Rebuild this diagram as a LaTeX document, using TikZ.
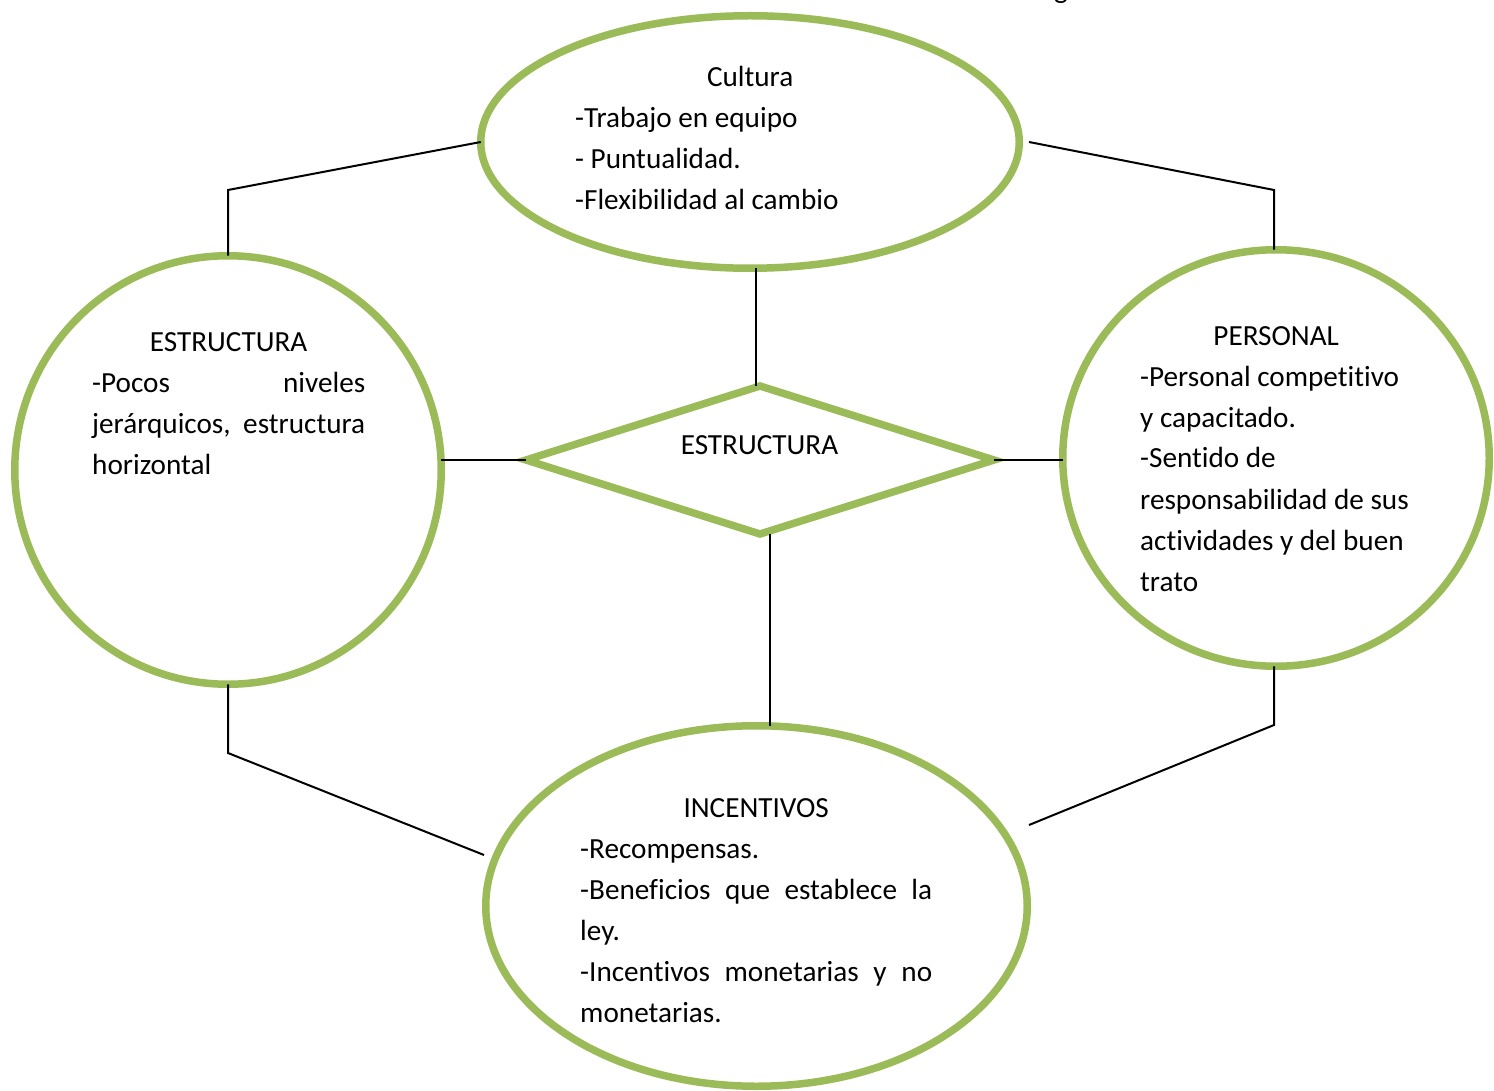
\documentclass[tikz,border=0pt]{standalone}
\usepackage{fontspec}
\setmainfont{Carlito}[Ligatures={NoCommon}]
\usetikzlibrary{shapes.geometric}
\definecolor{leaf}{HTML}{9BBB59}
\tikzset{
  ring/.style={draw=leaf, line width=7.5pt, ellipse, inner sep=0pt, outer sep=0pt},
  rhomb/.style={draw=leaf, line width=7.5pt, diamond, inner sep=0pt, outer sep=0pt},
  link/.style={draw=black, line width=2pt},
  txt/.style={inner sep=0pt, anchor=base west, font=\fontsize{29.2}{41}\selectfont},
}
% text block: first baseline at the node's base
\newcommand\blk[2]{\parbox[t]{#1}{\fontsize{29.2}{41}\selectfont\raggedright #2}}
\newcommand\jline[1]{\makebox[\linewidth][s]{#1}}
\newcommand\ctrline[1]{\makebox[\linewidth]{#1}}
\begin{document}
\begin{tikzpicture}[x=1pt,y=-1pt]
\useasboundingbox (0,0) rectangle (1494,1091);
\fill[white] (0,0) rectangle (1494,1091);

% shapes
\node[ring, minimum width=538.5pt, minimum height=252.5pt] (top) at (750,142) {};
\node[ring, minimum width=426.5pt, minimum height=428.5pt] (left) at (228,470) {};
\node[ring, minimum width=426.5pt, minimum height=416.5pt] (right) at (1276,458) {};
\node[ring, minimum width=541.5pt, minimum height=360.5pt] (bot) at (756.5,906) {};
\node[rhomb, minimum width=468pt, minimum height=148pt] (dia) at (760,460) {};

% connectors
\coordinate (b1) at (228,190);
\coordinate (b2) at (1274,190);
\coordinate (b3) at (228,753);
\coordinate (b4) at (1274,725);
\coordinate (s2) at (1029,142);
\coordinate (e3) at (484,855);
\coordinate (e4) at (1029,825);
\draw[link] (top.west) -- (b1) -- (left.north);
\draw[link] (s2) -- (b2) -- (b2 |- right.north);
\draw[link] (left.south) -- (b3) -- (e3);
\draw[link] (b4 |- right.south) -- (b4) -- (e4);
\draw[link] (dia.north -| 756,0) -- (top.south -| 756,0);
\draw[link] ([xshift=10pt]dia.south) -- ([xshift=10pt]dia.south |- bot.north);
\draw[link] (dia.west) -- (dia.west -| left.east);
\draw[link] (dia.east) -- (dia.east -| right.west);

% texts
\node[txt] (tcult) at (575,87) {\blk{350pt}{\ctrline{Cultura}\\
\mbox{-Trabajo en equipo}\\
\mbox{- Puntualidad.}\\
\mbox{-Flexibilidad al cambio}}};
\node[txt] (testr) at (92,352) {\blk{273pt}{\ctrline{ESTRUCTURA}\\
\jline{-Pocos niveles}\\
\jline{jerárquicos, estructura}\\
\mbox{horizontal}}};
\node[txt] (tpers) at (1140,345) {\blk{272pt}{\ctrline{PERSONAL}\\
\mbox{-Personal competitivo}\\
\mbox{y capacitado.}\\
\mbox{-Sentido de}\\
\mbox{responsabilidad de sus}\\
\mbox{actividades y del buen}\\
\mbox{trato}}};
\node[txt] (tince) at (580,817) {\blk{352pt}{\ctrline{INCENTIVOS}\\
\mbox{-Recompensas.}\\
\jline{-Beneficios que establece la}\\
\mbox{ley.}\\
\jline{-Incentivos monetarias y no}\\
\mbox{monetarias.}}};
\node[txt, anchor=base] (tdia) at (759.5,454) {ESTRUCTURA};
\node[txt, anchor=base] (tcut) at (1061,-1) {g};
\end{tikzpicture}
\end{document}
